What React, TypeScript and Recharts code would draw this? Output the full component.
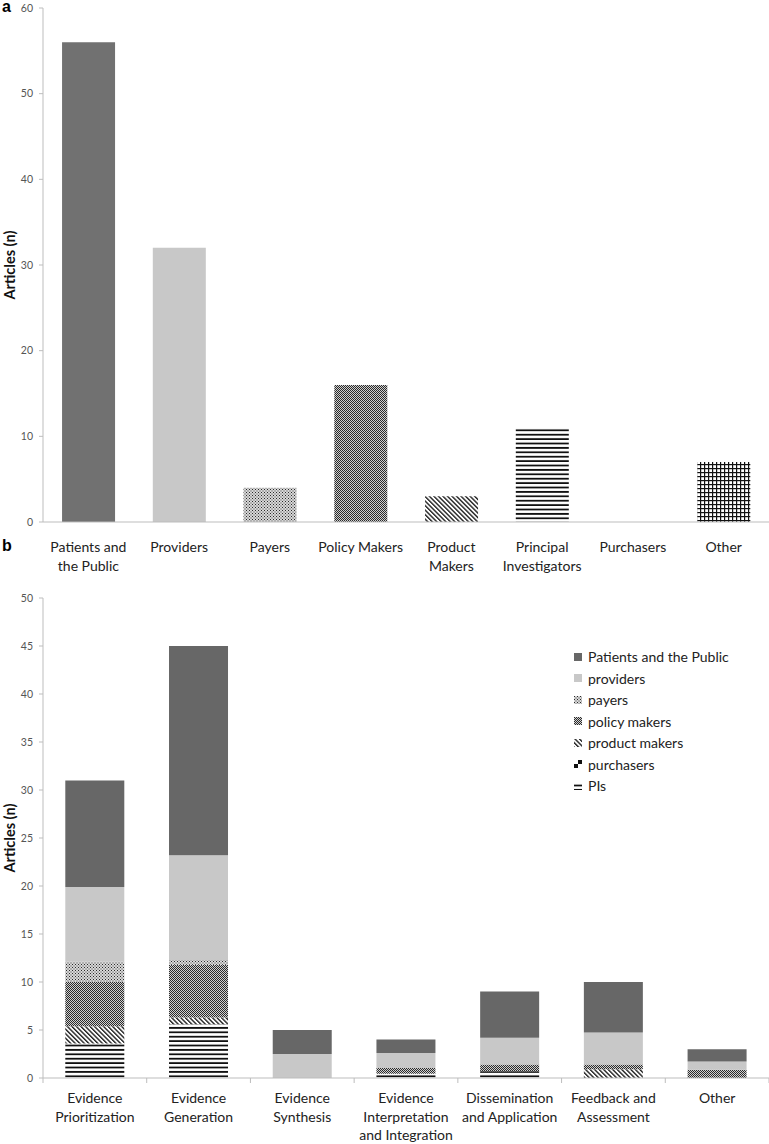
import React from "react";
import { BarChart, Bar, XAxis, YAxis, Legend, Cell } from "recharts";

// panel a: articles by stakeholder group
const stakeholders = [
  "Patients and\nthe Public",
  "Providers",
  "Payers",
  "Policy Makers",
  "Product\nMakers",
  "Principal\nInvestigators",
  "Purchasers",
  "Other",
];
const stakeholderArticles = [56, 32, 4, 16, 3, 11, 0, 7];
const ticksA = [0, 10, 20, 30, 40, 50, 60];

// panel b: articles by stage of research, stacked by stakeholder
const stages = [
  "Evidence\nPrioritization",
  "Evidence\nGeneration",
  "Evidence\nSynthesis",
  "Evidence\nInterpretation\nand Integration",
  "Dissemination\nand Application",
  "Feedback and\nAssessment",
  "Other",
];
const pisB = [3.6, 5.6, 0, 0.45, 0.7, 0, 0];
const purchasersB = [0, 0, 0, 0, 0, 0, 0];
const productMakersB = [1.8, 0.7, 0, 0, 0, 0.9, 0];
const policyMakersB = [4.6, 5.5, 0, 0.6, 0.7, 0.5, 0.87];
const payersB = [2.1, 0.5, 0, 0, 0, 0, 0];
const providersB = [7.8, 10.9, 2.5, 1.55, 2.8, 3.35, 0.86];
const patientsB = [11.1, 21.8, 2.5, 1.4, 4.8, 5.25, 1.27];
const ticksB = [0, 5, 10, 15, 20, 25, 30, 35, 40, 45, 50];
const legendOrder = [
  "Patients and the Public",
  "providers",
  "payers",
  "policy makers",
  "product makers",
  "purchasers",
  "PIs",
];

const dataA = stakeholders.map((name, i) => ({ name, articles: stakeholderArticles[i] }));
const dataB = stages.map((name, i) => ({
  name,
  pis: pisB[i],
  purchasers: purchasersB[i],
  product: productMakersB[i],
  policy: policyMakersB[i],
  payers: payersB[i],
  providers: providersB[i],
  patients: patientsB[i],
}));

const AXIS = "#bdbdbd";

const PatternDefs = ({ id }: { id: string }) => (
  <defs>
    <pattern id={`${id}-dots`} width="3" height="3" patternUnits="userSpaceOnUse">
      <rect width="3" height="3" fill="#d8d8d8" />
      <rect x="0" y="0" width="1" height="1" fill="#2a2a2a" />
      <rect x="1.5" y="1.5" width="1" height="1" fill="#3a3a3a" />
    </pattern>
    <pattern id={`${id}-check`} width="2" height="2" patternUnits="userSpaceOnUse">
      <rect width="2" height="2" fill="#d0d0d0" />
      <rect x="0" y="0" width="1" height="1" fill="#2a2a2a" />
      <rect x="1" y="1" width="1" height="1" fill="#2a2a2a" />
    </pattern>
    <pattern
      id={`${id}-diag`}
      width="3.2"
      height="3.2"
      patternUnits="userSpaceOnUse"
      patternTransform="rotate(-45)"
    >
      <rect width="3.2" height="3.2" fill="#fff" />
      <rect x="0" y="0" width="1.4" height="3.2" fill="#222" />
    </pattern>
    <pattern id={`${id}-hlines`} width="4" height="4.4" patternUnits="userSpaceOnUse">
      <rect width="4" height="4.4" fill="#fff" />
      <rect x="0" y="2.6" width="4" height="1.8" fill="#111" />
    </pattern>
    <pattern id={`${id}-grid`} width="4" height="4" patternUnits="userSpaceOnUse">
      <rect width="4" height="4" fill="#fff" />
      <rect x="0" y="0" width="4" height="1.2" fill="#111" />
      <rect x="0" y="0" width="1.2" height="4" fill="#111" />
    </pattern>
    <pattern id={`${id}-blocks`} width="8" height="8" patternUnits="userSpaceOnUse">
      <rect width="8" height="8" fill="#fff" />
      <rect x="4" y="0" width="4" height="4" fill="#111" />
      <rect x="0" y="4" width="4" height="4" fill="#111" />
    </pattern>
  </defs>
);

const fillsA = [
  "#717171",
  "#c8c8c8",
  "url(#pa-dots)",
  "url(#pa-check)",
  "url(#pa-diag)",
  "url(#pa-hlines)",
  "#999",
  "url(#pa-grid)",
];

const AxisTitle = (props: any) => {
  const vb = props.viewBox || { y: 0, height: 0 };
  const cx = 9;
  const cy = vb.y + vb.height / 2;
  return (
    <text
      x={cx}
      y={cy}
      transform={`rotate(-90 ${cx} ${cy})`}
      textAnchor="middle"
      dominantBaseline="central"
      fontWeight="bold"
      fontSize={14.5}
      fill="#111"
    >
      Articles (n)
    </text>
  );
};

const WrapTick = (props: any) => {
  const { x, y, payload, firstDy, boundaries, width, visibleTicksCount, index } = props;
  const lines = String(payload.value).split("\n");
  const count = visibleTicksCount || 7;
  const band = (width || 726) / count;
  return (
    <g>
      {boundaries && (
        <line x1={x - band / 2} x2={x - band / 2} y1={y} y2={y + 5} stroke={AXIS} />
      )}
      {boundaries && index === count - 1 && (
        <line x1={x + band / 2} x2={x + band / 2} y1={y} y2={y + 5} stroke={AXIS} />
      )}
      <text x={x} y={y + firstDy} textAnchor="middle" fontSize={14} fill="#222">
        {lines.map((l, i) => (
          <tspan key={i} x={x} dy={i === 0 ? 0 : 18.5}>
            {l}
          </tspan>
        ))}
      </text>
    </g>
  );
};

const Swatch = ({ fill }: { fill: string }) => (
  <svg width="8" height="8" style={{ marginRight: 6, flex: "none" }}>
    <rect width="8" height="8" fill={fill} />
  </svg>
);

const renderLegend = (props: any) => {
  const items = [...(props.payload || [])].sort(
    (a: any, b: any) => legendOrder.indexOf(a.value) - legendOrder.indexOf(b.value)
  );
  return (
    <div style={{ fontSize: 14, color: "#222" }}>
      {items.map((it: any) => (
        <div key={it.value} style={{ display: "flex", alignItems: "center", height: 21.5 }}>
          <Swatch fill={it.color} />
          <span>{it.value}</span>
        </div>
      ))}
    </div>
  );
};

const yTick = { fontSize: 10.5, fill: "#555" };

export default function App() {
  return (
    <div
      style={{
        position: "absolute",
        left: 0,
        top: 0,
        width: 769,
        height: 1144,
        background: "#fff",
        fontFamily: "Lato, 'Open Sans', sans-serif",
      }}
    >
      <div style={{ position: "absolute", left: 0, top: 0 }}>
        <BarChart
          width={769}
          height={580}
          data={dataA}
          margin={{ top: 8, right: 0, left: 0, bottom: 0 }}
          barCategoryGap="21%"
        >
          <PatternDefs id="pa" />
          <XAxis
            dataKey="name"
            interval={0}
            height={58}
            axisLine={{ stroke: AXIS }}
            tickLine={false}
            tickSize={0}
            tickMargin={0}
            tick={<WrapTick firstDy={30} />}
          />
          <YAxis
            domain={[0, 60]}
            ticks={ticksA}
            width={43}
            axisLine={{ stroke: AXIS }}
            tickLine={{ stroke: AXIS }}
            tickSize={4}
            tickMargin={6}
            tick={yTick}
            label={<AxisTitle />}
          />
          <Bar dataKey="articles" isAnimationActive={false}>
            {dataA.map((d, i) => (
              <Cell key={d.name} fill={fillsA[i]} />
            ))}
          </Bar>
        </BarChart>
      </div>

      <div style={{ position: "absolute", left: 0, top: 580 }}>
        <BarChart
          width={769}
          height={564}
          data={dataB}
          margin={{ top: 18, right: 0, left: 0, bottom: 0 }}
          barCategoryGap="21.5%"
        >
          <PatternDefs id="pb" />
          <XAxis
            dataKey="name"
            interval={0}
            height={66}
            axisLine={{ stroke: AXIS }}
            tickLine={false}
            tickSize={0}
            tickMargin={0}
            tick={<WrapTick firstDy={25} boundaries />}
          />
          <YAxis
            domain={[0, 50]}
            ticks={ticksB}
            width={43}
            axisLine={{ stroke: AXIS }}
            tickLine={{ stroke: AXIS }}
            tickSize={4}
            tickMargin={6}
            tick={yTick}
            label={<AxisTitle />}
          />
          <Legend
            layout="vertical"
            align="center"
            verticalAlign="middle"
            wrapperStyle={{ top: 66, left: 574, width: 190 }}
            content={renderLegend}
          />
          <Bar dataKey="pis" name="PIs" stackId="s" fill="url(#pb-hlines)" isAnimationActive={false} />
          <Bar dataKey="purchasers" name="purchasers" stackId="s" fill="url(#pb-blocks)" isAnimationActive={false} />
          <Bar dataKey="product" name="product makers" stackId="s" fill="url(#pb-diag)" isAnimationActive={false} />
          <Bar dataKey="policy" name="policy makers" stackId="s" fill="url(#pb-check)" isAnimationActive={false} />
          <Bar dataKey="payers" name="payers" stackId="s" fill="url(#pb-dots)" isAnimationActive={false} />
          <Bar dataKey="providers" name="providers" stackId="s" fill="#c8c8c8" isAnimationActive={false} />
          <Bar dataKey="patients" name="Patients and the Public" stackId="s" fill="#676767" isAnimationActive={false} />
        </BarChart>
      </div>

      <div style={{ position: "absolute", left: 2, top: -2, fontFamily: "'Liberation Sans', Arial, sans-serif", fontWeight: "bold", fontSize: 16, color: "#000" }}>
        a
      </div>
      <div style={{ position: "absolute", left: 2, top: 537, fontFamily: "'Liberation Sans', Arial, sans-serif", fontWeight: "bold", fontSize: 16, color: "#000" }}>
        b
      </div>
    </div>
  );
}
